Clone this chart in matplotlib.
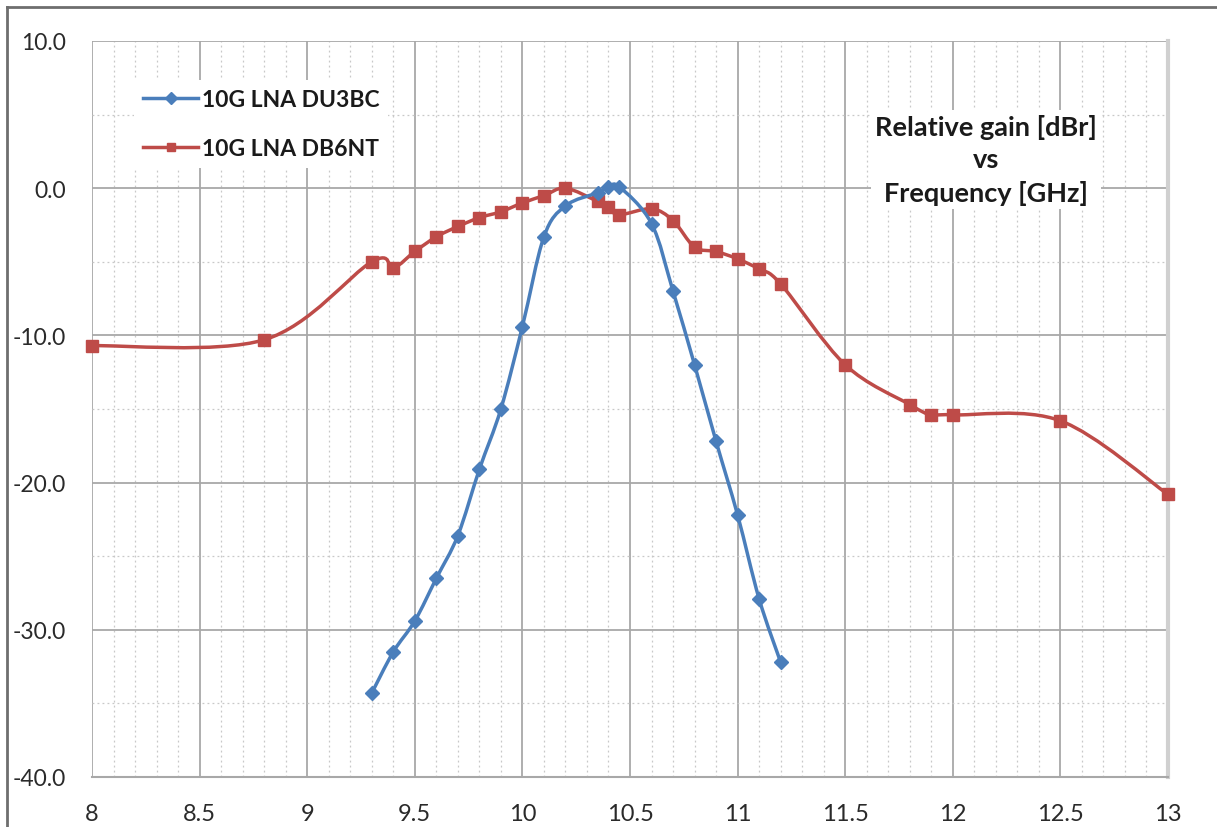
import numpy as np
import matplotlib.pyplot as plt
from matplotlib.path import Path
from matplotlib.patches import PathPatch
from matplotlib.lines import Line2D
from matplotlib.ticker import MultipleLocator

plt.rcParams['font.family'] = ['Lato', 'DejaVu Sans']

# 10G LNA DU3BC (blue, diamonds)
du3bc_freq = [9.3, 9.4, 9.5, 9.6, 9.7, 9.8, 9.9, 10.0, 10.1, 10.2, 10.35, 10.4, 10.45,
              10.6, 10.7, 10.8, 10.9, 11.0, 11.1, 11.2]
du3bc_gain = [-34.3, -31.5, -29.4, -26.5, -23.6, -19.1, -15.0, -9.4, -3.3, -1.2, -0.3, 0.05, 0.1,
              -2.4, -7.0, -12.0, -17.2, -22.2, -27.9, -32.2]

# 10G LNA DB6NT (red, squares)
db6nt_freq = [8.0, 8.8, 9.3, 9.4, 9.5, 9.6, 9.7, 9.8, 9.9, 10.0, 10.1, 10.2, 10.35, 10.4, 10.45,
              10.6, 10.7, 10.8, 10.9, 11.0, 11.1, 11.2, 11.5, 11.8, 11.9, 12.0, 12.5, 13.0]
db6nt_gain = [-10.7, -10.3, -5.0, -5.4, -4.3, -3.3, -2.6, -2.0, -1.6, -1.0, -0.5, 0.0, -0.9, -1.3, -1.8,
              -1.4, -2.2, -4.0, -4.3, -4.8, -5.5, -6.5, -12.0, -14.7, -15.4, -15.4, -15.8, -20.8]

x_ticks = [8, 8.5, 9, 9.5, 10, 10.5, 11, 11.5, 12, 12.5, 13]
x_ticklabels = ['8', '8.5', '9', '9.5', '10', '10.5', '11', '11.5', '12', '12.5', '13']
y_ticks = [10, 0, -10, -20, -30, -40]

blue = '#4a7ebb'
red = '#be4b48'


def smooth_path(xs, ys):
    # Excel-like smoothed line: cubic bezier through every point (catmull-rom tangents)
    p = np.column_stack([xs, ys]).astype(float)
    pts = np.vstack([p[0], p, p[-1]])
    verts = [p[0]]
    codes = [Path.MOVETO]
    for i in range(1, len(pts) - 2):
        p0, p1, p2, p3 = pts[i - 1], pts[i], pts[i + 1], pts[i + 2]
        verts += [p1 + (p2 - p0) / 6.0, p2 - (p3 - p1) / 6.0, p2]
        codes += [Path.CURVE4] * 3
    return Path(verts, codes)


fig = plt.figure(figsize=(12.17, 8.28), dpi=100)
ax = fig.add_axes([92 / 1217, 1 - 778 / 828, (1168 - 92) / 1217, (778 - 42) / 828])

ax.set_xlim(8, 13)
ax.set_ylim(-40, 10)
ax.set_xticks(x_ticks)
ax.set_xticklabels(x_ticklabels)
ax.set_yticks(y_ticks)
ax.set_yticklabels(['%.1f' % v for v in y_ticks])
ax.xaxis.set_minor_locator(MultipleLocator(0.1))
ax.yaxis.set_minor_locator(MultipleLocator(5))

ax.grid(which='major', color='#a8a8a8', linewidth=1.3)
ax.grid(which='minor', color='#c8c8c8', linewidth=0.9, linestyle=(0, (1.5, 2.5)))
ax.set_axisbelow(True)
ax.tick_params(which='both', length=0)
ax.tick_params(axis='y', pad=19, labelsize=16.5, labelcolor='#2a2a2a')
ax.tick_params(axis='x', pad=19, labelsize=17, labelcolor='#2a2a2a')
for s in ['top', 'left']:
    ax.spines[s].set_visible(False)
ax.spines['bottom'].set_color('#a8a8a8')
ax.spines['bottom'].set_linewidth(1.5)
ax.spines['right'].set_color('#d0d0d0')
ax.spines['right'].set_linewidth(3)

ax.add_patch(PathPatch(smooth_path(db6nt_freq, db6nt_gain), fill=False, edgecolor=red,
                       linewidth=2.5, zorder=3))
ax.plot(db6nt_freq, db6nt_gain, linestyle='none', marker='s', markersize=8,
        color=red, zorder=4, clip_on=False)
ax.add_patch(PathPatch(smooth_path(du3bc_freq, du3bc_gain), fill=False, edgecolor=blue,
                       linewidth=2.5, zorder=5))
ax.plot(du3bc_freq, du3bc_gain, linestyle='none', marker='D', markersize=7.5,
        color=blue, zorder=6)

handles = [Line2D([], [], color=blue, linewidth=2.5, marker='D', markersize=6),
           Line2D([], [], color=red, linewidth=2.5, marker='s', markersize=6)]
leg = ax.legend(handles, ['10G LNA DU3BC', '10G LNA DB6NT'], loc='upper left',
                bbox_to_anchor=(0.039, 0.947), borderaxespad=0, frameon=True, fancybox=False,
                handlelength=2.4, handletextpad=0.15, labelspacing=1.2,
                prop={'weight': 'bold', 'size': 16.5}, borderpad=0.4)
leg.get_frame().set_edgecolor('none')
leg.get_frame().set_facecolor('white')
leg.get_frame().set_alpha(1)
for t in leg.get_texts():
    t.set_color('#1a1a1a')

ax.text(0.831, 0.839, 'Relative gain [dBr]\nvs\nFrequency [GHz]', transform=ax.transAxes,
        ha='center', va='center', multialignment='center', fontsize=19.5,
        fontweight='bold', color='#1a1a1a', linespacing=1.4,
        bbox=dict(facecolor='white', edgecolor='none', pad=3))

# outer frame of the chart picture
fig.add_artist(Line2D([7 / 1217, 7 / 1217], [0, 1 - 8 / 828], transform=fig.transFigure,
                      color='#6e6e6e', linewidth=2))
fig.add_artist(Line2D([7 / 1217, 1], [1 - 8 / 828, 1 - 8 / 828], transform=fig.transFigure,
                      color='#6e6e6e', linewidth=2))

fig.savefig('out.png', dpi=100)
